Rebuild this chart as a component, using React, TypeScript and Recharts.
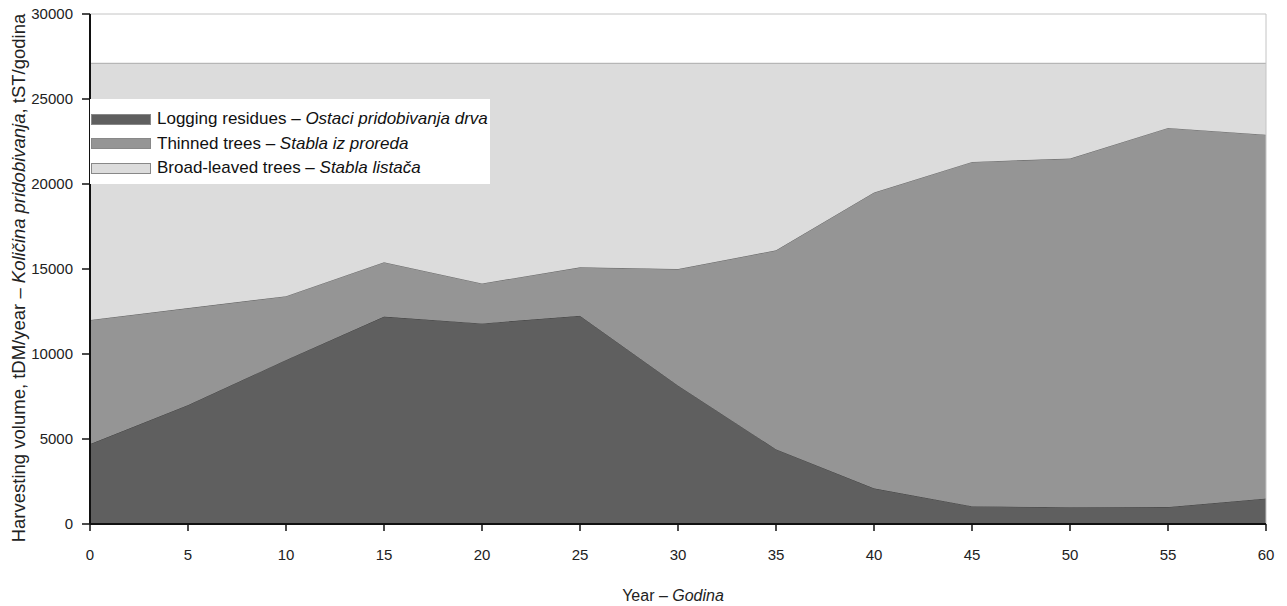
import React from 'react';
import { AreaChart, Area, XAxis, YAxis, ReferenceLine } from 'recharts';

const years = [0, 5, 10, 15, 20, 25, 30, 35, 40, 45, 50, 55, 60];
const loggingResidues = [4700, 7000, 9650, 12200, 11800, 12250, 8150, 4400, 2100, 1050, 980, 1000, 1500];
const thinnedTrees = [7300, 5700, 3750, 3200, 2350, 2850, 6850, 11700, 17400, 20250, 20520, 22300, 21400];
const broadLeavedTrees = [15100, 14400, 13700, 11700, 12950, 12000, 12100, 11000, 7600, 5800, 5600, 3800, 4200];
const yTicks = [0, 5000, 10000, 15000, 20000, 25000, 30000];
const xTicks = [0, 5, 10, 15, 20, 25, 30, 35, 40, 45, 50, 55, 60];

const data = years.map((year, i) => ({
  year,
  residues: loggingResidues[i],
  thinned: thinnedTrees[i],
  broad: broadLeavedTrees[i],
}));

const FONT = '"Liberation Sans", Arial, sans-serif';

const legendItems = [
  { color: '#5f5f5f', en: 'Logging residues', hr: 'Ostaci pridobivanja drva' },
  { color: '#959595', en: 'Thinned trees', hr: 'Stabla iz proreda' },
  { color: '#dcdcdc', en: 'Broad-leaved trees', hr: 'Stabla listača' },
];

const LegendBox = () => (
  <div
    style={{
      position: 'absolute',
      left: 90,
      top: 99,
      background: '#fff',
      width: 400,
      height: 85,
      boxSizing: 'border-box',
      paddingTop: 8,
      fontFamily: FONT,
      fontSize: 17,
      color: '#111',
    }}
  >
    {legendItems.map((it) => (
      <div key={it.en} style={{ display: 'flex', alignItems: 'center', height: 24.5 }}>
        <div
          style={{
            width: 60,
            height: 11,
            background: it.color,
            border: '1px solid #888',
            boxSizing: 'border-box',
            marginLeft: 1,
            marginRight: 6,
          }}
        />
        <span style={{ whiteSpace: 'nowrap' }}>
          {it.en} – <i>{it.hr}</i>
        </span>
      </div>
    ))}
  </div>
);

export default function App() {
  return (
    <div style={{ position: 'relative', width: 1287, height: 606, margin: '-8px 0 0 -8px' }}>
      <AreaChart
        width={1287}
        height={606}
        data={data}
        margin={{ top: 14, right: 21, left: 0, bottom: 22 }}
      >
        <XAxis
          dataKey="year"
          type="number"
          domain={[0, 60]}
          ticks={xTicks}
          height={60}
          tickSize={7}
          tickMargin={18}
          axisLine={{ stroke: '#111', strokeWidth: 2 }}
          tickLine={{ stroke: '#111', strokeWidth: 1.5 }}
          tick={{ fill: '#222', fontSize: 15, fontFamily: FONT }}
          interval={0}
        />
        <YAxis
          type="number"
          domain={[0, 30000]}
          ticks={yTicks}
          width={90}
          tickSize={8}
          tickMargin={9}
          axisLine={{ stroke: '#111', strokeWidth: 2 }}
          tickLine={{ stroke: '#111', strokeWidth: 1.5 }}
          tick={{ fill: '#222', fontSize: 15, fontFamily: FONT }}
          interval={0}
        />
        <Area
          type="linear"
          dataKey="residues"
          stackId="a"
          fill="#5f5f5f"
          fillOpacity={1}
          stroke="#3a3a3a"
          strokeWidth={0.8}
          isAnimationActive={false}
          dot={false}
          activeDot={false}
        />
        <Area
          type="linear"
          dataKey="thinned"
          stackId="a"
          fill="#959595"
          fillOpacity={1}
          stroke="#555"
          strokeWidth={0.8}
          isAnimationActive={false}
          dot={false}
          activeDot={false}
        />
        <Area
          type="linear"
          dataKey="broad"
          stackId="a"
          fill="#dcdcdc"
          fillOpacity={1}
          stroke="#aaa"
          strokeWidth={1}
          isAnimationActive={false}
          dot={false}
          activeDot={false}
        />
        <ReferenceLine y={30000} stroke="#c4c4c4" strokeWidth={1} />
        <ReferenceLine x={60} stroke="#c4c4c4" strokeWidth={1} />
      </AreaChart>
      <LegendBox />
      <div
        style={{
          position: 'absolute',
          left: 19,
          top: 278,
          transform: 'translate(-50%, -50%) rotate(-90deg)',
          whiteSpace: 'nowrap',
          fontFamily: FONT,
          fontSize: 18.5,
          color: '#222',
        }}
      >
        Harvesting volume, tDM/year – <i>Količina pridobivanja</i>, tST/godina
      </div>
      <div
        style={{
          position: 'absolute',
          left: 673,
          top: 596,
          transform: 'translate(-50%, -50%)',
          whiteSpace: 'nowrap',
          fontFamily: FONT,
          fontSize: 16,
          color: '#222',
        }}
      >
        Year – <i>Godina</i>
      </div>
    </div>
  );
}
